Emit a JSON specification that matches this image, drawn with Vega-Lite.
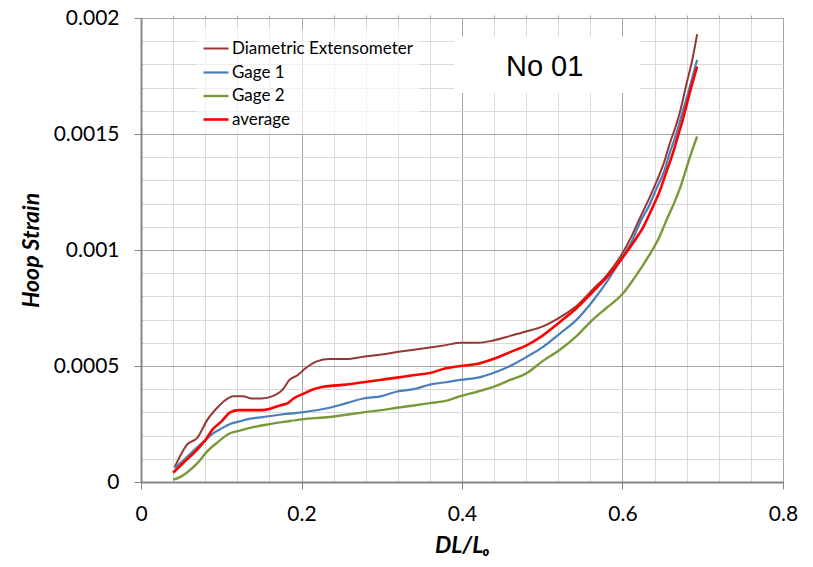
{
  "$schema": "https://vega.github.io/schema/vega-lite/v6.json",
  "width": 642,
  "height": 464,
  "autosize": {"type": "none"},
  "padding": {"left": 141, "top": 18, "right": 30, "bottom": 85},
  "config": {
    "view": {"stroke": "#a6a6a6", "strokeWidth": 1},
    "font": "Lato"
  },
  "resolve": {"axis": {"x": "independent", "y": "independent"}},
  "layer": [
    {
      "data": {"values": [
        {"s":"Diametric Extensometer","x":0.042,"y":0.000065},{"s":"Diametric Extensometer","x":0.05,"y":0.00012},{"s":"Diametric Extensometer","x":0.057,"y":0.00016},{"s":"Diametric Extensometer","x":0.07,"y":0.00019},{"s":"Diametric Extensometer","x":0.083,"y":0.00027},{"s":"Diametric Extensometer","x":0.095,"y":0.00032},{"s":"Diametric Extensometer","x":0.104,"y":0.00035},{"s":"Diametric Extensometer","x":0.115,"y":0.00037},{"s":"Diametric Extensometer","x":0.127,"y":0.00037},{"s":"Diametric Extensometer","x":0.138,"y":0.00036},{"s":"Diametric Extensometer","x":0.15,"y":0.00036},{"s":"Diametric Extensometer","x":0.164,"y":0.00037},{"s":"Diametric Extensometer","x":0.177,"y":0.0004},{"s":"Diametric Extensometer","x":0.185,"y":0.00044},{"s":"Diametric Extensometer","x":0.195,"y":0.00046},{"s":"Diametric Extensometer","x":0.205,"y":0.00049},{"s":"Diametric Extensometer","x":0.219,"y":0.00052},{"s":"Diametric Extensometer","x":0.235,"y":0.00053},{"s":"Diametric Extensometer","x":0.256,"y":0.00053},{"s":"Diametric Extensometer","x":0.277,"y":0.00054},{"s":"Diametric Extensometer","x":0.3,"y":0.00055},{"s":"Diametric Extensometer","x":0.319,"y":0.00056},{"s":"Diametric Extensometer","x":0.34,"y":0.00057},{"s":"Diametric Extensometer","x":0.36,"y":0.00058},{"s":"Diametric Extensometer","x":0.38,"y":0.00059},{"s":"Diametric Extensometer","x":0.398,"y":0.0006},{"s":"Diametric Extensometer","x":0.42,"y":0.0006},{"s":"Diametric Extensometer","x":0.439,"y":0.00061},{"s":"Diametric Extensometer","x":0.46,"y":0.00063},{"s":"Diametric Extensometer","x":0.481,"y":0.00065},{"s":"Diametric Extensometer","x":0.5,"y":0.00067},{"s":"Diametric Extensometer","x":0.522,"y":0.00071},{"s":"Diametric Extensometer","x":0.543,"y":0.00076},{"s":"Diametric Extensometer","x":0.563,"y":0.00083},{"s":"Diametric Extensometer","x":0.58,"y":0.00089},{"s":"Diametric Extensometer","x":0.597,"y":0.00097},{"s":"Diametric Extensometer","x":0.61,"y":0.00105},{"s":"Diametric Extensometer","x":0.622,"y":0.00114},{"s":"Diametric Extensometer","x":0.633,"y":0.00122},{"s":"Diametric Extensometer","x":0.643,"y":0.0013},{"s":"Diametric Extensometer","x":0.652,"y":0.00138},{"s":"Diametric Extensometer","x":0.659,"y":0.00146},{"s":"Diametric Extensometer","x":0.666,"y":0.00153},{"s":"Diametric Extensometer","x":0.672,"y":0.0016},{"s":"Diametric Extensometer","x":0.68,"y":0.00172},{"s":"Diametric Extensometer","x":0.687,"y":0.00182},{"s":"Diametric Extensometer","x":0.693,"y":0.00193},
        {"s":"Gage 1","x":0.042,"y":0.00006},{"s":"Gage 1","x":0.055,"y":0.0001},{"s":"Gage 1","x":0.07,"y":0.00015},{"s":"Gage 1","x":0.08,"y":0.00018},{"s":"Gage 1","x":0.09,"y":0.00021},{"s":"Gage 1","x":0.1,"y":0.00023},{"s":"Gage 1","x":0.111,"y":0.00025},{"s":"Gage 1","x":0.122,"y":0.00026},{"s":"Gage 1","x":0.132,"y":0.00027},{"s":"Gage 1","x":0.152,"y":0.00028},{"s":"Gage 1","x":0.173,"y":0.00029},{"s":"Gage 1","x":0.2,"y":0.0003},{"s":"Gage 1","x":0.235,"y":0.00032},{"s":"Gage 1","x":0.256,"y":0.00034},{"s":"Gage 1","x":0.277,"y":0.00036},{"s":"Gage 1","x":0.3,"y":0.00037},{"s":"Gage 1","x":0.319,"y":0.00039},{"s":"Gage 1","x":0.34,"y":0.0004},{"s":"Gage 1","x":0.36,"y":0.00042},{"s":"Gage 1","x":0.38,"y":0.00043},{"s":"Gage 1","x":0.398,"y":0.00044},{"s":"Gage 1","x":0.42,"y":0.00045},{"s":"Gage 1","x":0.439,"y":0.00047},{"s":"Gage 1","x":0.46,"y":0.0005},{"s":"Gage 1","x":0.481,"y":0.00054},{"s":"Gage 1","x":0.5,"y":0.00058},{"s":"Gage 1","x":0.522,"y":0.00064},{"s":"Gage 1","x":0.543,"y":0.0007},{"s":"Gage 1","x":0.563,"y":0.00078},{"s":"Gage 1","x":0.58,"y":0.00086},{"s":"Gage 1","x":0.6,"y":0.00097},{"s":"Gage 1","x":0.612,"y":0.00104},{"s":"Gage 1","x":0.622,"y":0.00112},{"s":"Gage 1","x":0.633,"y":0.00119},{"s":"Gage 1","x":0.643,"y":0.00127},{"s":"Gage 1","x":0.652,"y":0.00134},{"s":"Gage 1","x":0.659,"y":0.00142},{"s":"Gage 1","x":0.666,"y":0.00149},{"s":"Gage 1","x":0.672,"y":0.00156},{"s":"Gage 1","x":0.682,"y":0.00168},{"s":"Gage 1","x":0.693,"y":0.00182},
        {"s":"Gage 2","x":0.04,"y":0.00001},{"s":"Gage 2","x":0.048,"y":0.00002},{"s":"Gage 2","x":0.057,"y":0.00004},{"s":"Gage 2","x":0.07,"y":0.00008},{"s":"Gage 2","x":0.082,"y":0.00013},{"s":"Gage 2","x":0.095,"y":0.00017},{"s":"Gage 2","x":0.111,"y":0.00021},{"s":"Gage 2","x":0.122,"y":0.00022},{"s":"Gage 2","x":0.132,"y":0.00023},{"s":"Gage 2","x":0.145,"y":0.00024},{"s":"Gage 2","x":0.161,"y":0.00025},{"s":"Gage 2","x":0.18,"y":0.00026},{"s":"Gage 2","x":0.2,"y":0.00027},{"s":"Gage 2","x":0.235,"y":0.00028},{"s":"Gage 2","x":0.256,"y":0.00029},{"s":"Gage 2","x":0.277,"y":0.0003},{"s":"Gage 2","x":0.3,"y":0.00031},{"s":"Gage 2","x":0.319,"y":0.00032},{"s":"Gage 2","x":0.34,"y":0.00033},{"s":"Gage 2","x":0.36,"y":0.00034},{"s":"Gage 2","x":0.38,"y":0.00035},{"s":"Gage 2","x":0.398,"y":0.00037},{"s":"Gage 2","x":0.42,"y":0.00039},{"s":"Gage 2","x":0.439,"y":0.00041},{"s":"Gage 2","x":0.46,"y":0.00044},{"s":"Gage 2","x":0.481,"y":0.00047},{"s":"Gage 2","x":0.5,"y":0.00052},{"s":"Gage 2","x":0.522,"y":0.00057},{"s":"Gage 2","x":0.543,"y":0.00063},{"s":"Gage 2","x":0.563,"y":0.0007},{"s":"Gage 2","x":0.58,"y":0.00075},{"s":"Gage 2","x":0.6,"y":0.00081},{"s":"Gage 2","x":0.615,"y":0.00088},{"s":"Gage 2","x":0.632,"y":0.00097},{"s":"Gage 2","x":0.645,"y":0.00105},{"s":"Gage 2","x":0.655,"y":0.00113},{"s":"Gage 2","x":0.664,"y":0.0012},{"s":"Gage 2","x":0.672,"y":0.00127},{"s":"Gage 2","x":0.684,"y":0.0014},{"s":"Gage 2","x":0.693,"y":0.00149},
        {"s":"average","x":0.04,"y":0.00004},{"s":"average","x":0.055,"y":0.00009},{"s":"average","x":0.07,"y":0.00014},{"s":"average","x":0.08,"y":0.00018},{"s":"average","x":0.09,"y":0.00023},{"s":"average","x":0.1,"y":0.00026},{"s":"average","x":0.111,"y":0.0003},{"s":"average","x":0.122,"y":0.00031},{"s":"average","x":0.132,"y":0.00031},{"s":"average","x":0.152,"y":0.00031},{"s":"average","x":0.173,"y":0.00033},{"s":"average","x":0.183,"y":0.00034},{"s":"average","x":0.19,"y":0.00036},{"s":"average","x":0.202,"y":0.00038},{"s":"average","x":0.215,"y":0.0004},{"s":"average","x":0.227,"y":0.00041},{"s":"average","x":0.256,"y":0.00042},{"s":"average","x":0.277,"y":0.00043},{"s":"average","x":0.298,"y":0.00044},{"s":"average","x":0.319,"y":0.00045},{"s":"average","x":0.339,"y":0.00046},{"s":"average","x":0.36,"y":0.00047},{"s":"average","x":0.38,"y":0.00049},{"s":"average","x":0.398,"y":0.0005},{"s":"average","x":0.42,"y":0.00051},{"s":"average","x":0.439,"y":0.00053},{"s":"average","x":0.46,"y":0.00056},{"s":"average","x":0.481,"y":0.00059},{"s":"average","x":0.5,"y":0.00063},{"s":"average","x":0.522,"y":0.00069},{"s":"average","x":0.543,"y":0.00075},{"s":"average","x":0.563,"y":0.00082},{"s":"average","x":0.585,"y":0.0009},{"s":"average","x":0.605,"y":0.00099},{"s":"average","x":0.615,"y":0.00104},{"s":"average","x":0.626,"y":0.0011},{"s":"average","x":0.637,"y":0.00118},{"s":"average","x":0.647,"y":0.00126},{"s":"average","x":0.655,"y":0.00134},{"s":"average","x":0.663,"y":0.00142},{"s":"average","x":0.669,"y":0.00149},{"s":"average","x":0.675,"y":0.00156},{"s":"average","x":0.684,"y":0.00168},{"s":"average","x":0.693,"y":0.00179}
      ]},
      "mark": {"type": "line", "strokeJoin": "round", "interpolate": "monotone"},
      "encoding": {
        "x": {
          "field": "x", "type": "quantitative",
          "scale": {"domain": [0, 0.8], "nice": false, "zero": false},
          "axis": {
            "values": [0, 0.2, 0.4, 0.6, 0.8],
            "format": "~g", "labelFlush": false,
            "grid": true, "gridColor": "#a6a6a6", "gridWidth": 1,
            "domainColor": "#868686", "domainWidth": 2,
            "tickColor": "#868686", "tickSize": 7, "tickWidth": 1,
            "labelFont": "Lato", "labelFontSize": 21, "labelColor": "#000000", "labelPadding": 14,
            "title": "DL/Lₒ", "titleFont": "Lato", "titleFontSize": 23, "titleFontWeight": "bold", "titleFontStyle": "italic",
            "titleColor": "#000000", "titlePadding": 10
          }
        },
        "y": {
          "field": "y", "type": "quantitative",
          "scale": {"domain": [0, 0.002], "nice": false, "zero": false},
          "axis": {
            "values": [0, 0.0005, 0.001, 0.0015, 0.002],
            "format": "~g", "labelFlush": false,
            "grid": true, "gridColor": "#a6a6a6", "gridWidth": 1,
            "domainColor": "#868686", "domainWidth": 2,
            "tickColor": "#868686", "tickSize": 7, "tickWidth": 1,
            "labelFont": "Lato", "labelFontSize": 21, "labelColor": "#000000", "labelPadding": 15,
            "title": "Hoop Strain", "titleFont": "Lato", "titleFontSize": 23, "titleFontWeight": "bold", "titleFontStyle": "italic",
            "titleColor": "#000000", "titlePadding": 10
          }
        },
        "color": {
          "field": "s", "type": "nominal",
          "scale": {"domain": ["Diametric Extensometer", "Gage 1", "Gage 2", "average"], "range": ["#953735", "#4a7ebb", "#7a9a3a", "#ff0000"]},
          "legend": {
            "orient": "none", "legendX": 55, "legendY": 11, "title": null,
            "symbolType": "stroke", "symbolSize": 625,
            "labelFont": "Lato", "labelFontSize": 17, "labelColor": "#000000", "labelLimit": 400,
            "labelOffset": 2, "rowPadding": 1.5, "padding": 6,
            "fillColor": "rgba(255,255,255,0.6)"
          }
        },
        "strokeWidth": {
          "field": "s", "type": "nominal",
          "scale": {"domain": ["Diametric Extensometer", "Gage 1", "Gage 2", "average"], "range": [2, 2.6, 2.4, 5]},
          "legend": {
            "orient": "none", "legendX": 55, "legendY": 11, "title": null,
            "symbolType": "stroke", "symbolSize": 625,
            "labelFont": "Lato", "labelFontSize": 17, "labelColor": "#000000", "labelLimit": 400,
            "labelOffset": 2, "rowPadding": 1.5, "padding": 6,
            "fillColor": "rgba(255,255,255,0.6)"
          }
        }
      }
    },
    {
      "data": {"values": [{}]},
      "mark": {"type": "rect", "fill": "#ffffff"},
      "encoding": {
        "x": {"datum": 0.39, "type": "quantitative",
          "axis": {
            "values": [0.04, 0.08, 0.12, 0.16, 0.24, 0.28, 0.32, 0.36, 0.44, 0.48, 0.52, 0.56, 0.64, 0.68, 0.72, 0.76],
            "grid": true, "gridColor": "#d9d9d9", "gridWidth": 1,
            "labels": false, "domain": false, "ticks": true, "tickSize": 3, "tickColor": "#a6a6a6",
            "title": null
          }
        },
        "x2": {"datum": 0.622},
        "y": {"datum": 0.001677, "type": "quantitative",
          "axis": {
            "values": [0.0001, 0.0002, 0.0003, 0.0004, 0.0006, 0.0007, 0.0008, 0.0009, 0.0011, 0.0012, 0.0013, 0.0014, 0.0016, 0.0017, 0.0018, 0.0019],
            "grid": true, "gridColor": "#d9d9d9", "gridWidth": 1,
            "labels": false, "domain": false, "ticks": false,
            "title": null
          }
        },
        "y2": {"datum": 0.00192}
      }
    },
    {
      "data": {"values": [{}]},
      "mark": {"type": "text", "text": "No 01", "font": "Liberation Sans", "fontSize": 29, "color": "#000000", "align": "center", "baseline": "middle"},
      "encoding": {
        "x": {"datum": 0.503, "type": "quantitative", "axis": null},
        "y": {"datum": 0.00179, "type": "quantitative", "axis": null}
      }
    }
  ]
}
